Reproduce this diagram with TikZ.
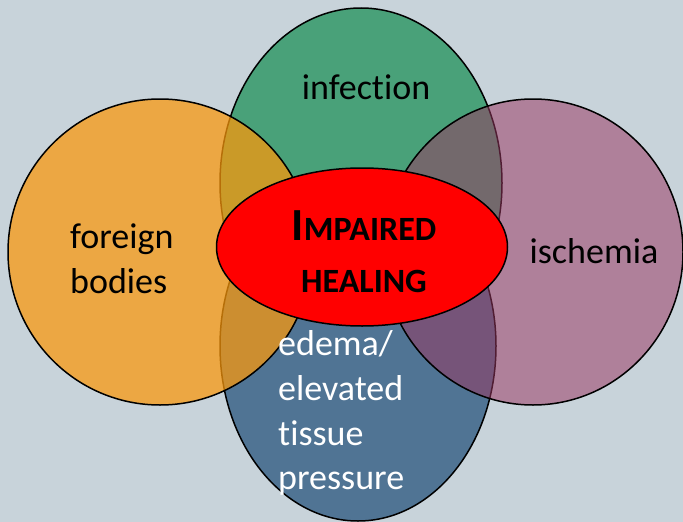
\documentclass[tikz,border=0pt]{standalone}
\usepackage{fontspec}
\setmainfont[Ligatures=NoCommon]{Carlito}
\usetikzlibrary{shapes.geometric}
\definecolor{bg}{RGB}{200,211,218}
\definecolor{cgreen}{RGB}{73,161,121}
\definecolor{cblue}{RGB}{80,116,148}
\definecolor{corange}{RGB}{250,152,11}
\definecolor{cpurple}{RGB}{153,56,98}
\definecolor{cred}{RGB}{255,0,0}
\tikzset{
  blob/.style={ellipse, draw=black, line width=1.5pt, inner sep=0pt},
  lbl/.style={font=\fontsize{36}{42}\selectfont, inner sep=0pt, anchor=base west},
  ctr/.style={font=\fontsize{36}{42}\selectfont, inner sep=0pt, anchor=base},
}
\begin{document}
\begin{tikzpicture}[x=1pt,y=-1pt]
  \fill[bg] (0,0) rectangle (683,522);
  \useasboundingbox (0,0) rectangle (683,522);
  \node[blob, fill=cgreen, minimum width=282pt, minimum height=350pt] (green) at (361,183) {};
  \node[blob, fill=cblue, minimum width=276pt, minimum height=350pt] (blue) at (358,346) {};
  \node[blob, fill=corange, fill opacity=0.73, minimum width=304pt, minimum height=306pt] (orange) at (160,252) {};
  \node[blob, fill=cpurple, fill opacity=0.53, minimum width=300pt, minimum height=306pt] (purple) at (533,252) {};
  \node[blob, fill=cred, minimum width=291pt, minimum height=158pt] (red) at (362,247) {};
  \node[ctr] (tinf) at (366,99) {infection};
  \node[lbl] (tfor1) at (70,248) {foreign};
  \node[lbl] (tfor2) at (70,293) {bodies};
  \node[ctr] (tisc) at (594,263) {ischemia};
  \node[lbl, text=white] (ted1) at (278,355) {edema/};
  \node[lbl, text=white] (ted2) at (278,400) {elevated};
  \node[lbl, text=white] (ted3) at (278,445) {tissue};
  \node[lbl, text=white] (ted4) at (278,489) {pressure};
  \node[inner sep=0pt, anchor=base, font=\bfseries] (timp) at (364,240) {{\fontsize{46}{46}\selectfont I}{\fontsize{34}{34}\selectfont MPAIRED}};
  \node[inner sep=0pt, anchor=base, font=\bfseries] (theal) at (364,292) {{\fontsize{34}{34}\selectfont HEALING}};
\end{tikzpicture}
\end{document}
